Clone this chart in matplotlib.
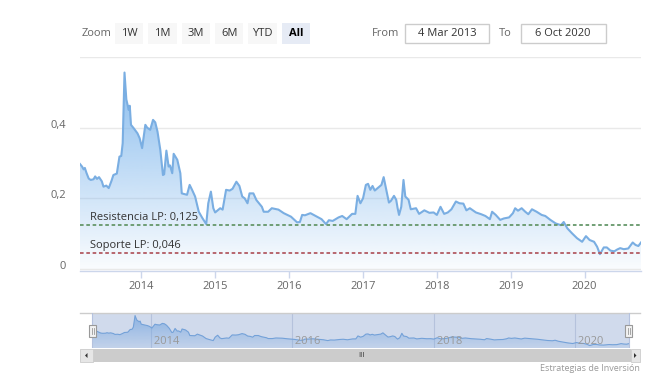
import numpy as np
import matplotlib
matplotlib.use("Agg")
import matplotlib.pyplot as plt
import matplotlib.dates as mdates
import matplotlib.transforms as mtransforms
from matplotlib.patches import Rectangle, Polygon

plt.rcParams['font.family'] = ['Open Sans', 'DejaVu Sans']

# ---------------- data ----------------
dates = [
    "2013-03-04", "2013-03-14", "2013-03-22", "2013-03-28", "2013-04-05", "2013-04-16",
    "2013-04-26", "2013-05-10", "2013-05-18", "2013-05-27", "2013-06-06", "2013-06-20",
    "2013-06-28", "2013-07-12", "2013-07-24", "2013-08-07", "2013-08-16", "2013-09-02",
    "2013-09-15", "2013-09-24", "2013-10-01", "2013-10-10", "2013-10-19", "2013-10-25",
    "2013-10-31", "2013-11-05", "2013-11-11", "2013-11-25", "2013-12-13", "2013-12-24",
    "2014-01-05", "2014-01-21", "2014-01-30", "2014-02-14", "2014-02-28", "2014-03-11",
    "2014-03-22", "2014-04-05", "2014-04-18", "2014-04-24", "2014-05-05", "2014-05-16",
    "2014-05-23", "2014-06-03", "2014-06-10", "2014-06-28", "2014-07-13", "2014-07-20",
    "2014-08-15", "2014-08-28", "2014-09-09", "2014-09-24", "2014-10-12", "2014-10-30",
    "2014-11-18", "2014-11-28", "2014-12-11", "2014-12-23", "2015-01-01", "2015-01-26",
    "2015-02-07", "2015-02-24", "2015-03-14", "2015-03-28", "2015-04-16", "2015-05-01",
    "2015-05-15", "2015-05-27", "2015-06-10", "2015-06-20", "2015-07-09", "2015-07-24",
    "2015-08-20", "2015-08-29", "2015-09-20", "2015-10-08", "2015-11-10", "2015-12-06",
    "2016-01-11", "2016-02-10", "2016-02-24", "2016-03-06", "2016-03-20", "2016-04-16",
    "2016-05-19", "2016-06-10", "2016-07-02", "2016-07-16", "2016-08-04", "2016-09-02",
    "2016-09-20", "2016-10-12", "2016-11-08", "2016-11-24", "2016-12-05", "2016-12-19",
    "2017-01-01", "2017-01-15", "2017-01-26", "2017-02-06", "2017-02-17", "2017-02-28",
    "2017-04-02", "2017-04-13", "2017-04-24", "2017-05-09", "2017-05-19", "2017-06-03",
    "2017-06-14", "2017-06-21", "2017-06-28", "2017-07-09", "2017-07-20", "2017-07-29",
    "2017-08-14", "2017-08-25", "2017-09-20", "2017-10-05", "2017-10-31", "2017-11-25",
    "2017-12-16", "2018-01-01", "2018-01-19", "2018-02-06", "2018-02-24", "2018-03-14",
    "2018-04-05", "2018-04-23", "2018-05-12", "2018-05-27", "2018-06-13", "2018-06-28",
    "2018-07-13", "2018-08-08", "2018-08-29", "2018-09-20", "2018-10-01", "2018-10-19",
    "2018-11-10", "2018-11-28", "2018-12-24", "2019-01-12", "2019-01-23", "2019-02-06",
    "2019-02-24", "2019-03-14", "2019-03-29", "2019-04-16", "2019-05-09", "2019-06-03",
    "2019-06-21", "2019-07-16", "2019-08-11", "2019-09-06", "2019-09-20", "2019-10-08",
    "2019-10-31", "2019-11-25", "2019-12-20", "2020-01-08", "2020-01-26", "2020-02-17",
    "2020-03-03", "2020-03-17", "2020-04-05", "2020-04-20", "2020-05-08", "2020-05-27",
    "2020-06-10", "2020-06-25", "2020-07-13", "2020-08-04", "2020-08-26", "2020-09-09",
    "2020-09-23", "2020-10-06",
]
values = [
    0.297, 0.290, 0.282, 0.286, 0.272, 0.256,
    0.252, 0.254, 0.262, 0.255, 0.260, 0.248,
    0.233, 0.236, 0.229, 0.250, 0.266, 0.270,
    0.318, 0.320, 0.356, 0.556, 0.480, 0.465,
    0.450, 0.462, 0.408, 0.398, 0.384, 0.370,
    0.342, 0.408, 0.400, 0.394, 0.422, 0.415,
    0.389, 0.337, 0.266, 0.268, 0.335, 0.290,
    0.293, 0.271, 0.326, 0.309, 0.271, 0.214,
    0.210, 0.238, 0.224, 0.205, 0.162, 0.144,
    0.127, 0.186, 0.219, 0.172, 0.160, 0.172,
    0.168, 0.224, 0.222, 0.227, 0.247, 0.235,
    0.205, 0.200, 0.186, 0.214, 0.214, 0.195,
    0.176, 0.162, 0.162, 0.172, 0.168, 0.158,
    0.148, 0.132, 0.133, 0.153, 0.152, 0.158,
    0.148, 0.141, 0.127, 0.138, 0.136, 0.146,
    0.150, 0.141, 0.156, 0.156, 0.207, 0.186,
    0.200, 0.238, 0.241, 0.224, 0.235, 0.222,
    0.238, 0.260, 0.230, 0.188, 0.193, 0.207,
    0.196, 0.172, 0.153, 0.176, 0.252, 0.205,
    0.196, 0.169, 0.172, 0.156, 0.166, 0.159,
    0.160, 0.153, 0.176, 0.156, 0.160, 0.169,
    0.191, 0.186, 0.185, 0.166, 0.172, 0.166,
    0.160, 0.155, 0.150, 0.141, 0.162, 0.153,
    0.139, 0.143, 0.146, 0.158, 0.172, 0.165,
    0.172, 0.162, 0.155, 0.169, 0.162, 0.153,
    0.150, 0.139, 0.129, 0.124, 0.133, 0.115,
    0.101, 0.087, 0.077, 0.093, 0.082, 0.077,
    0.063, 0.042, 0.061, 0.061, 0.052, 0.050,
    0.055, 0.059, 0.056, 0.058, 0.075, 0.068,
    0.065, 0.075,
]
resistance = 0.125
support = 0.046
resistance_label = "Resistencia LP: 0,125"
support_label = "Soporte LP: 0,046"
y_ticks = [0, 0.2, 0.4, 0.6]
y_tick_labels = ["0", "0,2", "0,4", ""]
x_years = [2014, 2015, 2016, 2017, 2018, 2019, 2020]
nav_years = [2014, 2016, 2018, 2020]
zoom_buttons = ["1W", "1M", "3M", "6M", "YTD", "All"]
from_date = "4 Mar 2013"
to_date = "6 Oct 2020"
credit = "Estrategias de Inversión"

# ---------------- figure ----------------
W, H = 661, 383
fig = plt.figure(figsize=(W / 100, H / 100), dpi=100)
fig.patch.set_facecolor("white")

def fr(x0, y0, x1, y1):
    """pixel box (top-left origin) -> figure rect"""
    return [x0 / W, 1 - y1 / H, (x1 - x0) / W, (y1 - y0) / H]

xd = mdates.date2num(np.array(dates, dtype="datetime64[D]"))
yv = np.array(values)
line_col = "#7aaee2"
base_rgb = np.array([124, 181, 236]) / 255.0

def gradient_fill(ax, x, y, top, a_top, a_bot, ymin=0):
    poly = ax.fill_between(x, y, ymin, facecolor="none", edgecolor="none")
    n = 256
    alpha = np.linspace(a_bot, a_top, n)[:, None]
    img = np.zeros((n, 1, 4))
    img[..., :3] = base_rgb
    img[..., 3] = alpha
    im = ax.imshow(img, aspect="auto", origin="lower",
                   extent=[x[0], x[-1], ymin, top], zorder=1, interpolation="bilinear")
    path = poly.get_paths()[0]
    im.set_clip_path(path, transform=ax.transData)
    return im

# ---------------- main chart ----------------
ax = fig.add_axes(fr(80, 57, 641, 271))
ax.set_facecolor("white")
ax.set_xlim(xd[0], xd[-1])
ax.set_ylim(-0.0057, 0.6)
gradient_fill(ax, xd, yv, yv.max(), 0.9, 0.04)
ax.plot(xd, yv, color=line_col, lw=1.5, zorder=3, solid_joinstyle="round")

for s in ["top", "right", "left"]:
    ax.spines[s].set_visible(False)
ax.spines["bottom"].set_color("#ccd6eb")
ax.spines["bottom"].set_linewidth(1)

ax.set_yticks(y_ticks)
ax.set_yticklabels(y_tick_labels)
ax.yaxis.grid(True, color="#e9e9e9", lw=1)
ax.set_axisbelow(True)
ax.tick_params(axis="y", length=0, pad=10, labelsize=8, labelcolor="#666666")
off = mtransforms.ScaledTranslation(0, 4 / 100, fig.dpi_scale_trans)
for lbl in ax.get_yticklabels():
    lbl.set_transform(lbl.get_transform() + off)

xt = mdates.date2num(np.array([f"{y}-01-01" for y in x_years], dtype="datetime64[D]"))
ax.set_xticks(xt)
ax.set_xticklabels([str(y) for y in x_years])
ax.tick_params(axis="x", length=5, width=1, color="#ccd6eb", pad=2,
               labelsize=8, labelcolor="#666666")

ax.axhline(resistance, color="#66976a", lw=1.3, ls=(0, (2, 1.5)), zorder=4)
ax.axhline(support, color="#b25a63", lw=1.3, ls=(0, (2, 1.5)), zorder=4)
tx = mtransforms.blended_transform_factory(ax.transAxes, ax.transData)
ax.text(10 / 561, resistance + 0.004, resistance_label, transform=tx,
        fontsize=8, color="#333333", va="bottom", ha="left", zorder=5)
ax.text(10 / 561, support + 0.004, support_label, transform=tx,
        fontsize=8, color="#333333", va="bottom", ha="left", zorder=5)

# ---------------- top controls ----------------
fig.text(81.5 / W, 1 - 33.5 / H, "Zoom", fontsize=8, color="#666666",
         ha="left", va="center")
btn_x = [115, 148.3, 181.7, 215, 248.3, 281.7]
for bx, lab in zip(btn_x, zoom_buttons):
    sel = lab == "All"
    fig.add_artist(Rectangle((bx / W, 1 - 44.3 / H), 28.3 / W, 21 / H,
                             transform=fig.transFigure,
                             facecolor="#e6ebf5" if sel else "#f7f7f7",
                             edgecolor="none"))
    fig.text((bx + 14.2) / W, 1 - 33.5 / H, lab, fontsize=8,
             color="#000000" if sel else "#333333",
             fontweight="bold" if sel else "normal", ha="center", va="center")

fig.text(372 / W, 1 - 33.5 / H, "From", fontsize=8, color="#666666",
         ha="left", va="center")
fig.text(499 / W, 1 - 33.5 / H, "To", fontsize=8, color="#666666",
         ha="left", va="center")
for (x0, x1), lab in zip([(405, 489.3), (520.7, 605.7)], [from_date, to_date]):
    fig.add_artist(Rectangle((x0 / W, 1 - 43.3 / H), (x1 - x0) / W, 19 / H,
                             transform=fig.transFigure, facecolor="white",
                             edgecolor="#cccccc", lw=1))
    fig.text((x0 + x1) / 2 / W, 1 - 33.5 / H, lab, fontsize=8, color="#333333",
             ha="center", va="center")

# ---------------- navigator ----------------
nav = fig.add_axes(fr(80, 313, 640, 348))
span = xd[-1] - xd[0]
nav.set_xlim(xd[0] - span * 12.5 / 537, xd[-1] + span * 11 / 537)
nav.set_ylim(0, 0.6)
nav.set_facecolor("white")
for s in nav.spines.values():
    s.set_visible(False)
nav.set_yticks([])
nxt = mdates.date2num(np.array([f"{y}-01-01" for y in nav_years], dtype="datetime64[D]"))
nav.set_xticks(nxt)
nav.set_xticklabels([])
nav.tick_params(axis="x", length=0)
for xv, yl in zip(nxt, nav_years):
    nav.axvline(xv, color="#d8dde8", lw=0.8, zorder=0.5)
    nav.text(xv, 0.015, " " + str(yl), fontsize=8, color="#999999",
             ha="left", va="bottom", zorder=6)
gradient_fill(nav, xd, yv, yv.max(), 0.75, 0.15)
nav.plot(xd, yv, color=line_col, lw=0.8, zorder=3)
nav.axvspan(xd[0], xd[-1], facecolor=(102 / 255, 133 / 255, 194 / 255, 0.3),
            edgecolor="none", zorder=4)
nav.axhline(0.6, color="#cccccc", lw=1, zorder=5, clip_on=False)
nav.plot([xd[0], xd[0]], [0, 0.6], color="#b5c2de", lw=0.8, zorder=5)
nav.plot([xd[-1], xd[-1]], [0, 0.6], color="#b5c2de", lw=0.8, zorder=5)

# handles
for hx in [92.5, 628.5]:
    fig.add_artist(Rectangle(((hx - 3.5) / W, 1 - 337 / H), 7 / W, 12 / H,
                             transform=fig.transFigure, facecolor="#f2f2f2",
                             edgecolor="#999999", lw=0.8, zorder=10))
    for dx in (-1, 1):
        fig.add_artist(plt.Line2D([(hx + dx) / W] * 2, [1 - 328 / H, 1 - 334 / H],
                                  color="#999999", lw=0.6, transform=fig.transFigure,
                                  zorder=11))

# scrollbar
fig.add_artist(Rectangle((80 / W, 1 - 362 / H), 560 / W, 13 / H,
                         transform=fig.transFigure, facecolor="#f2f2f2",
                         edgecolor="none"))
fig.add_artist(Rectangle((92.7 / W, 1 - 362 / H), (630.5 - 92.7) / W, 13 / H,
                         transform=fig.transFigure, facecolor="#cccccc",
                         edgecolor="none"))
for bx0, bx1 in [(80, 92.7), (630.7, 640)]:
    fig.add_artist(Rectangle((bx0 / W, 1 - 362 / H), (bx1 - bx0) / W, 13 / H,
                             transform=fig.transFigure, facecolor="#e6e6e6",
                             edgecolor="#cccccc", lw=0.6))
cy = 355.5
fig.add_artist(Polygon([[(85.0) / W, 1 - cy / H], [87.5 / W, 1 - (cy - 2.5) / H],
                        [87.5 / W, 1 - (cy + 2.5) / H]], closed=True,
                       transform=fig.transFigure, facecolor="#333333", edgecolor="none"))
fig.add_artist(Polygon([[(636.5) / W, 1 - cy / H], [634 / W, 1 - (cy - 2.5) / H],
                        [634 / W, 1 - (cy + 2.5) / H]], closed=True,
                       transform=fig.transFigure, facecolor="#333333", edgecolor="none"))
fig.text(361 / W, 1 - cy / H, "III", fontsize=5.5, color="#333333",
         ha="center", va="center")

fig.text(640 / W, 1 - 368.5 / H, credit, fontsize=6.5, color="#999999",
         ha="right", va="center")

fig.savefig("out.png", dpi=100, facecolor="white")
